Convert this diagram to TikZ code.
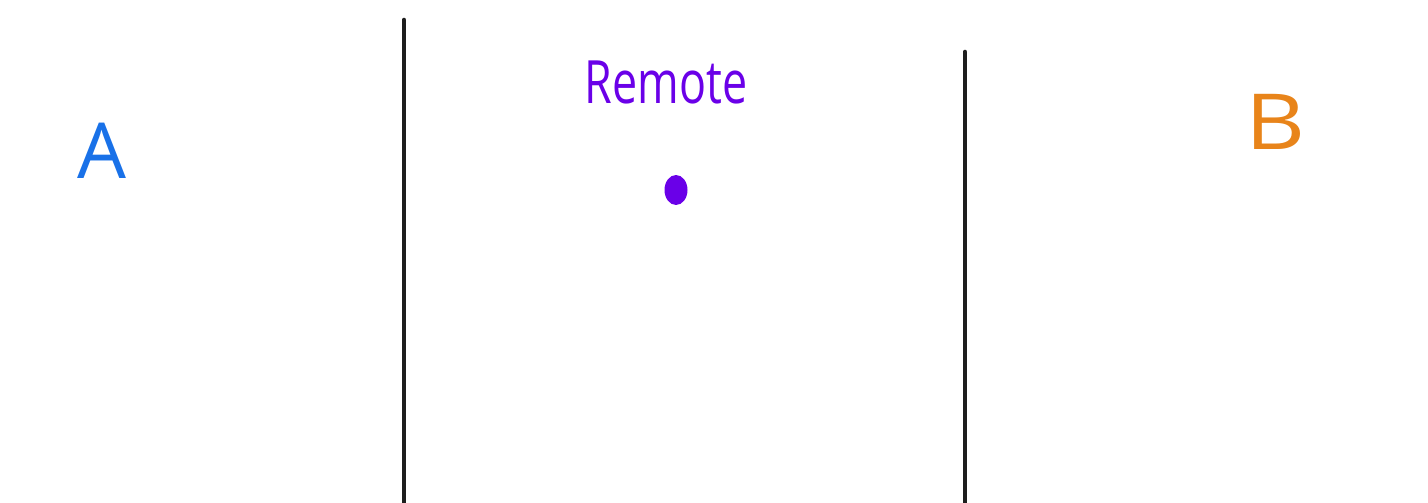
\documentclass[tikz,border=0pt]{standalone}
\usepackage{fontspec}
\setsansfont{Open Sans}
\usetikzlibrary{positioning,shapes.geometric}
\definecolor{ablue}{RGB}{25,113,232}
\definecolor{rpurple}{RGB}{106,0,232}
\definecolor{borange}{RGB}{232,132,26}
\definecolor{ink}{RGB}{30,30,30}

\begin{document}
\begin{tikzpicture}[x=0.02cm, y=-0.02cm,
  divider/.style={ink, line width=2.6pt, line cap=round},
  sidelabel/.style={font=\sffamily\fontsize{44}{50}\selectfont, inner sep=0pt},
  remotelabel/.style={rpurple, font=\sffamily\fontsize{34}{40}\selectfont, inner sep=0pt, xscale=0.75},
  remotedot/.style={ellipse, fill=rpurple, minimum width=0.46cm, minimum height=0.6cm, inner sep=0pt}]

\useasboundingbox (0,0) rectangle (1428,503);

% left and right walls
\coordinate (L1) at (404,20);
\coordinate (L2) at (404,503);
\coordinate (R1) at (965,52);
\coordinate (R2) at (965,503);
\draw[divider] (L1) -- (L2);
\draw[divider] (R1) -- (R2);

% the three sides
\node[sidelabel, ablue] (A) at (102,151) {A};
\node[remotelabel] (remote) at (666,82) {Remote};
\node[remotedot] (dot) at (676,190) {};
\node[sidelabel, borange, xscale=1.2] (B) at (1276,122) {B};

\end{tikzpicture}
\end{document}
